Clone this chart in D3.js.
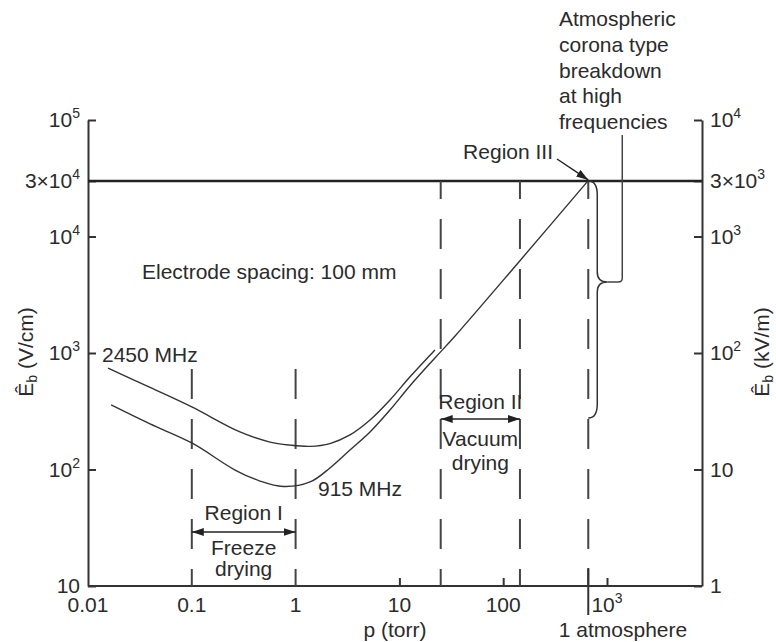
<!DOCTYPE html>
<html><head>
<meta charset="utf-8">
<script src="https://d3js.org/d3.v7.min.js"></script>
<style>
  body { margin: 0; background: #fff; }
  svg text { font-family: "Liberation Sans", Arial, sans-serif; fill: #2b2b2b; }
  .axis path, .axis line { stroke: #333; stroke-width: 2px; }
  .curve { fill: none; stroke: #333; stroke-width: 1.4px; }
  .dash { stroke: #444; stroke-width: 2px; stroke-dasharray: 30 20; }
</style>
</head>
<body>
<svg id="chart" width="776" height="642"></svg>
<script>

// pressure (torr) and breakdown field (V/cm)
const curve2450P = [0.0156, 0.0396, 0.1, 0.291, 0.567, 0.883, 1.38, 2.14, 3.34, 5.21, 8.11, 12.6, 22];
const curve2450E = [743, 506, 344, 210, 172, 162, 158, 167, 198, 266, 395, 622, 1062];
const curve915P = [0.0167, 0.0396, 0.1, 0.261, 0.454, 0.757, 1.38, 2.14, 3.34, 5.21, 8.11, 12.6, 22.0, 34.4, 145, 656];
const curve915E = [358, 246, 169, 99, 79.6, 71.5, 78.2, 103, 147, 210, 324, 521, 906, 1400, 6200, 30000];

const xTicks = [0.01, 0.1, 1, 10, 100, 1000];
const xTickLabels = [["0.01"], ["0.1"], ["1"], ["10"], ["100"], ["10", "3"]];
const yLeftTicks = [1e5, 3e4, 1e4, 1e3, 1e2, 10];
const yLeftLabels = [["10", "5"], ["3×10", "4"], ["10", "4"], ["10", "3"], ["10", "2"], ["10"]];
const yRightTicks = [1e4, 3e3, 1e3, 1e2, 10, 1];
const yRightLabels = [["10", "4"], ["3×10", "3"], ["10", "3"], ["10", "2"], ["10"], ["1"]];

// vertical dashed markers: pressure and top value
const dashP = [0.1, 1, 25, 145, 660];
const dashTop = [740, 740, 3e4, 3e4, 3e4];
const limitE = 3e4;      // horizontal line
const atmP = 660;        // 1 atmosphere
const braceE = [3e4, 4060, 277];

const svg = d3.select("#chart");
const m = { left: 88, right: 702, top: 120, bottom: 586 };

const x = d3.scaleLog().domain([0.01, 1000]).range([m.left, 607]);
const yL = d3.scaleLog().domain([10, 1e5]).range([m.bottom, m.top]);
const yR = d3.scaleLog().domain([1, 1e4]).range([m.bottom, m.top]);

// markers for arrows
const defs = svg.append("defs");
defs.append("marker").attr("id", "arr")
  .attr("viewBox", "0 0 12 8").attr("refX", 12).attr("refY", 4)
  .attr("markerWidth", 12).attr("markerHeight", 8).attr("markerUnits", "userSpaceOnUse")
  .attr("orient", "auto-start-reverse")
  .append("path").attr("d", "M0,0 L12,4 L0,8 Z").attr("fill", "#222");

// axes
svg.append("g").attr("class", "axis")
  .attr("transform", "translate(" + m.left + ",0)")
  .call(d3.axisRight(yL).tickValues(yLeftTicks).tickSize(8).tickSizeOuter(0).tickFormat(""));
svg.append("g").attr("class", "axis")
  .attr("transform", "translate(" + m.right + ",0)")
  .call(d3.axisLeft(yR).tickValues(yRightTicks).tickSize(8).tickSizeOuter(0).tickFormat(""));
const xAxis = svg.append("g").attr("class", "axis")
  .attr("transform", "translate(0," + m.bottom + ")")
  .call(d3.axisTop(x).tickValues([10, 100, 1000]).tickSize(8).tickSizeOuter(0).tickFormat(""));
xAxis.select(".domain").remove();
svg.append("line").attr("x1", m.left).attr("x2", m.right).attr("y1", m.bottom).attr("y2", m.bottom)
  .attr("stroke", "#333").attr("stroke-width", 2);

// tick labels with superscripts
function sup(sel, parts) {
  sel.append("tspan").text(parts[0]);
  if (parts[1]) sel.append("tspan").attr("font-size", 14).attr("dy", -9).text(parts[1]);
}
yLeftTicks.forEach((v, i) => {
  const t = svg.append("text").attr("x", 80).attr("y", yL(v) + 7)
    .attr("text-anchor", "end").attr("font-size", 21);
  sup(t, yLeftLabels[i]);
});
yRightTicks.forEach((v, i) => {
  const t = svg.append("text").attr("x", 710).attr("y", yR(v) + 7)
    .attr("font-size", 21);
  sup(t, yRightLabels[i]);
});
xTicks.forEach((v, i) => {
  const t = svg.append("text").attr("x", x(v)).attr("y", 612)
    .attr("text-anchor", "middle").attr("font-size", 21);
  sup(t, xTickLabels[i]);
});

// axis titles
svg.append("text").attr("x", 395).attr("y", 637).attr("text-anchor", "middle")
  .attr("font-size", 21).text("p (torr)");
function eb(tx, ty, unit) {
  const t = svg.append("text").attr("transform", "translate(" + tx + "," + ty + ") rotate(-90)")
    .attr("text-anchor", "middle").attr("font-size", 21);
  t.append("tspan").text("Ê");
  t.append("tspan").attr("font-size", 14).attr("dy", 4).text("b");
  t.append("tspan").attr("dy", -4).text(" (" + unit + ")");
}
eb(33, 352, "V/cm");
eb(769, 352, "kV/m");

// limit line
svg.append("line").attr("x1", m.left).attr("x2", m.right)
  .attr("y1", yL(limitE)).attr("y2", yL(limitE))
  .attr("stroke", "#222").attr("stroke-width", 2.5);

// dashed verticals, dashes counted from the axis upward
dashP.forEach((p, i) => {
  svg.append("line").attr("class", "dash")
    .attr("x1", x(p)).attr("x2", x(p))
    .attr("y1", m.bottom).attr("y2", yL(dashTop[i]))
    .attr("stroke-dashoffset", 13);
});
// 1 atmosphere marker below the axis
svg.append("line").attr("x1", x(atmP)).attr("x2", x(atmP))
  .attr("y1", 568).attr("y2", 615).attr("stroke", "#333").attr("stroke-width", 2);
svg.append("text").attr("x", 623).attr("y", 637).attr("text-anchor", "middle")
  .attr("font-size", 21).text("1 atmosphere");

// curves
const line = d3.line().x(d => x(d[0])).y(d => yL(d[1])).curve(d3.curveCatmullRom.alpha(0.5));
svg.append("path").attr("class", "curve")
  .attr("d", line(curve2450P.map((p, i) => [p, curve2450E[i]])));
svg.append("path").attr("class", "curve")
  .attr("d", line(curve915P.map((p, i) => [p, curve915E[i]])));

svg.append("text").attr("x", 102).attr("y", 362).attr("font-size", 21).text("2450 MHz");
svg.append("text").attr("x", 318).attr("y", 496).attr("font-size", 21).text("915 MHz");
svg.append("text").attr("x", 142).attr("y", 279).attr("font-size", 21).text("Electrode spacing: 100 mm");

// Region I
const r1y = 532;
svg.append("line").attr("x1", x(0.1)).attr("x2", x(1)).attr("y1", r1y).attr("y2", r1y)
  .attr("stroke", "#222").attr("stroke-width", 1.5)
  .attr("marker-start", "url(#arr)").attr("marker-end", "url(#arr)");
const r1x = (x(0.1) + x(1)) / 2;
svg.append("text").attr("x", r1x).attr("y", 520).attr("text-anchor", "middle").attr("font-size", 21).text("Region I");
svg.append("text").attr("x", r1x).attr("y", 555).attr("text-anchor", "middle").attr("font-size", 21).text("Freeze");
svg.append("text").attr("x", r1x).attr("y", 576).attr("text-anchor", "middle").attr("font-size", 21).text("drying");

// Region II
const r2y = 419;
svg.append("line").attr("x1", x(25)).attr("x2", x(145)).attr("y1", r2y).attr("y2", r2y)
  .attr("stroke", "#222").attr("stroke-width", 1.5)
  .attr("marker-start", "url(#arr)").attr("marker-end", "url(#arr)");
const r2x = (x(25) + x(145)) / 2;
svg.append("text").attr("x", r2x).attr("y", 409).attr("text-anchor", "middle").attr("font-size", 21).text("Region II");
svg.append("text").attr("x", r2x).attr("y", 446).attr("text-anchor", "middle").attr("font-size", 21).text("Vacuum");
svg.append("text").attr("x", r2x).attr("y", 470).attr("text-anchor", "middle").attr("font-size", 21).text("drying");

// Region III
svg.append("text").attr("x", 553).attr("y", 159).attr("text-anchor", "end").attr("font-size", 21).text("Region III");
svg.append("line").attr("x1", 557).attr("y1", 159).attr("x2", x(atmP)).attr("y2", yL(limitE) - 1)
  .attr("stroke", "#222").attr("stroke-width", 1.5).attr("marker-end", "url(#arr)");

// brace and pointer
const xa = x(atmP), xb = xa + 9, xc = xa + 19;
const yt = yL(braceE[0]), ym = yL(braceE[1]), yb = yL(braceE[2]);
svg.append("path").attr("fill", "none").attr("stroke", "#333").attr("stroke-width", 1.5)
  .attr("d", "M" + xa + "," + yt + " Q" + xb + "," + yt + " " + xb + "," + (yt + 14) +
    " L" + xb + "," + (ym - 10) + " Q" + xb + "," + ym + " " + xc + "," + ym +
    " Q" + xb + "," + ym + " " + xb + "," + (ym + 10) +
    " L" + xb + "," + (yb - 14) + " Q" + xb + "," + yb + " " + xa + "," + yb);
svg.append("path").attr("fill", "none").attr("stroke", "#444").attr("stroke-width", 1.5)
  .attr("d", "M" + xc + "," + ym + " L" + (xc + 11) + "," + ym +
    " Q" + (xc + 15) + "," + ym + " " + (xc + 15) + "," + (ym - 4) + " L" + (xc + 15) + ",135");

const note = ["Atmospheric", "corona type", "breakdown", "at high", "frequencies"];
note.forEach((s, i) => {
  svg.append("text").attr("x", 559).attr("y", 26 + i * 25.8).attr("font-size", 21).text(s);
});

</script>
</body>
</html>
